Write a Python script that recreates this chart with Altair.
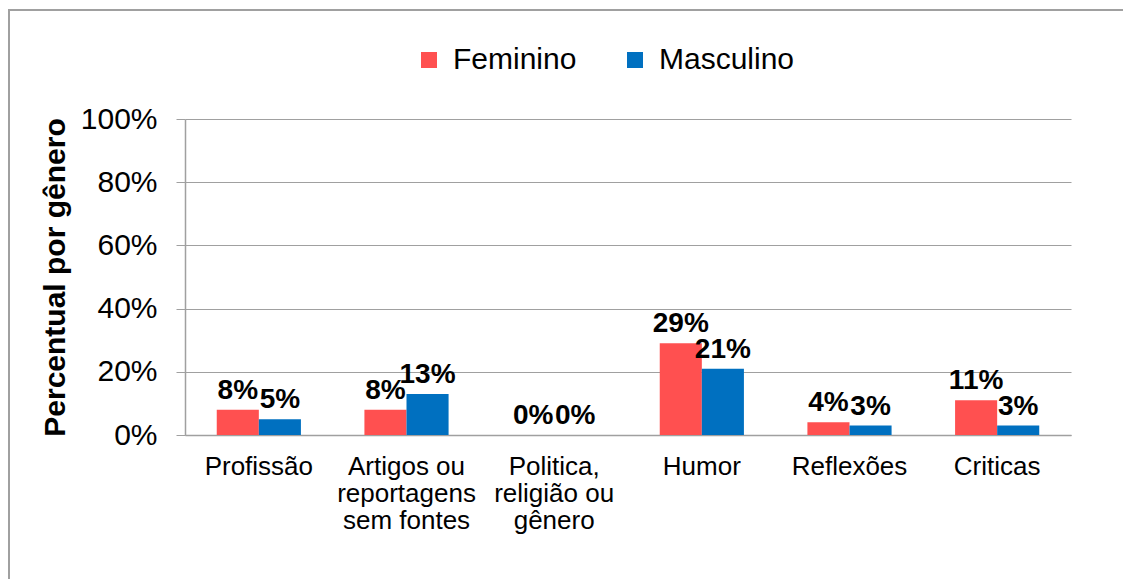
import altair as alt
import pandas as pd

categories = ["Profissão", "Artigos ou\nreportagens\nsem fontes", "Politica,\nreligião ou\ngênero",
              "Humor", "Reflexões", "Criticas"]
genders = ["Feminino", "Masculino"]
feminino = [8, 8, 0, 29, 4, 11]
masculino = [5, 13, 0, 21, 3, 3]
colors = ["#FF5050", "#0070C0"]

rows = []
for c, f, m in zip(categories, feminino, masculino):
    rows.append({"cat": c, "g": "Feminino", "v": f / 100})
    rows.append({"cat": c, "g": "Masculino", "v": m / 100})
df = pd.DataFrame(rows)

FONT = "Liberation Sans"

x_enc = alt.X("cat:N", sort=categories,
              scale=alt.Scale(paddingInner=0.43, paddingOuter=0.215),
              axis=alt.Axis(title=None, labelAngle=0, labelFontSize=26, labelFont=FONT,
                            labelColor="#000000", ticks=False, domainColor="#A0A0A0",
                            domainWidth=1.5, labelPadding=18, labelLineHeight=27,
                            labelBaseline="top",
                            labelExpr="split(datum.label, '\\n')"))
xo_enc = alt.XOffset("g:N", sort=genders, scale=alt.Scale(paddingInner=0, paddingOuter=0))
y_enc = alt.Y("v:Q", scale=alt.Scale(domain=[0, 1]),
              axis=alt.Axis(values=[0, 0.2, 0.4, 0.6, 0.8, 1.0], format=".0%",
                            title="Percentual por gênero", titleFontSize=30, titleFont=FONT,
                            titleFontWeight="bold", titleColor="#000000",
                            titleAngle=-90, titleX=-130, titleY=158, titleAlign="center",
                            titleBaseline="middle",
                            labelFontSize=30, labelFont=FONT, labelColor="#000000",
                            labelPadding=19, tickSize=9, tickColor="#A0A0A0",
                            domainColor="#A0A0A0", domainWidth=1.5, gridColor="#A0A0A0",
                            gridWidth=1.2))

bars = alt.Chart(df).mark_bar().encode(
    x=x_enc, xOffset=xo_enc, y=y_enc,
    color=alt.Color("g:N", sort=genders, scale=alt.Scale(domain=genders, range=colors),
                    legend=alt.Legend(title=None, orient="none", direction="horizontal",
                                      legendX=229, legendY=-74, symbolType="square",
                                      symbolSize=256, symbolStrokeWidth=0,
                                      labelFontSize=30, labelFont=FONT, labelColor="#000000",
                                      labelOffset=9, columnPadding=43, padding=0))
)

labels = alt.Chart(df).mark_text(font=FONT, fontSize=28, fontWeight="bold", color="#000000",
                                 baseline="bottom", dy=-5).encode(
    x=alt.X("cat:N", sort=categories), xOffset=alt.XOffset("g:N", sort=genders),
    y="v:Q", text=alt.Text("v:Q", format=".0%")
)

frame_left = alt.Chart(df).mark_rule(color="#A0A0A0", strokeWidth=2).encode(
    x=alt.value(-176), y=alt.value(-109), y2=alt.value(480))
frame_top = alt.Chart(df).mark_rule(color="#A0A0A0", strokeWidth=2).encode(
    x=alt.value(-177), x2=alt.value(1000), y=alt.value(-109))

chart = alt.layer(bars, labels, frame_left, frame_top).properties(
    width=886, height=316,
    autosize=alt.AutoSizeParams(type="none"),
    padding={"left": 177, "top": 111, "right": 52, "bottom": 144},
).configure_view(stroke=None)

chart.save("out.html", embed_options={"renderer": "svg", "actions": False})
